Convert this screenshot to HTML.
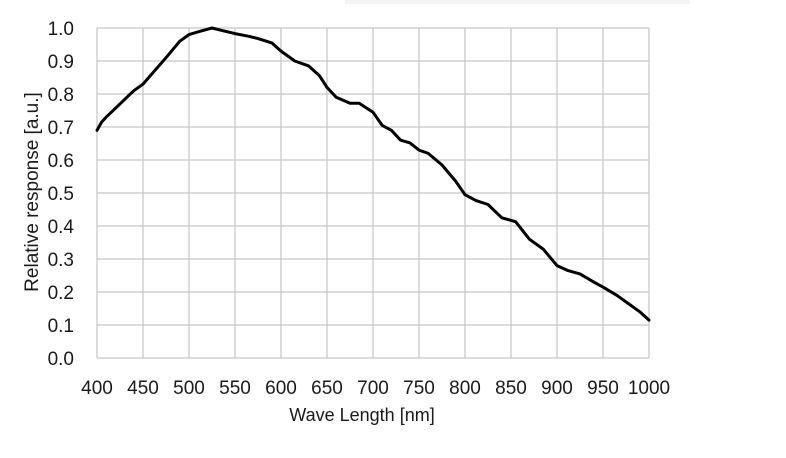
<!DOCTYPE html>
<html><head><meta charset="utf-8"><style>
html,body{margin:0;padding:0;background:#fff;}
svg{display:block;font-family:"Liberation Sans",Arial,sans-serif;}
</style></head><body>
<svg id="s" width="786" height="458" viewBox="0 0 786 458" xmlns="http://www.w3.org/2000/svg">
<rect x="345" y="0" width="345" height="4" fill="#f4f4f4"/>
<g id="grid" stroke="#c8c8c8" stroke-width="1.3" fill="none"></g>
<g id="lab" fill="#1a1a1a" font-size="19"></g>
<text x="362" y="421" text-anchor="middle" font-size="18" fill="#1a1a1a">Wave Length [nm]</text>
<text transform="translate(38,192) rotate(-90)" text-anchor="middle" font-size="19" fill="#1a1a1a">Relative response [a.u.]</text>
<path id="c" fill="none" stroke="#000" stroke-width="3" stroke-linejoin="round" stroke-linecap="round"/>
</svg>
<script>
var L=97,R=649,T=28,B=358,ns="http://www.w3.org/2000/svg";
function X(n){return L+(n-400)*(R-L)/600}
function Y(v){return B-v*(B-T)}
var g=document.getElementById('grid'),lab=document.getElementById('lab');
for(var i=0;i<=12;i++){var x=X(400+50*i);var l=document.createElementNS(ns,'line');l.setAttribute('x1',x);l.setAttribute('x2',x);l.setAttribute('y1',T);l.setAttribute('y2',B);g.appendChild(l);
var t=document.createElementNS(ns,'text');t.setAttribute('x',x);t.setAttribute('y',394);t.setAttribute('text-anchor','middle');t.textContent=400+50*i;lab.appendChild(t);}
for(var j=0;j<=10;j++){var y=Y(j/10);var l=document.createElementNS(ns,'line');l.setAttribute('x1',L);l.setAttribute('x2',R);l.setAttribute('y1',y);l.setAttribute('y2',y);g.appendChild(l);
var t=document.createElementNS(ns,'text');t.setAttribute('x',74);t.setAttribute('y',y+7);t.setAttribute('text-anchor','end');t.textContent=(j/10).toFixed(1);lab.appendChild(t);}
var d=[[400,0.69],[405,0.715],[410,0.73],[425,0.77],[440,0.81],[450,0.83],[475,0.91],[490,0.96],[500,0.98],[512,0.99],[525,1.0],[535,0.993],[550,0.983],[565,0.975],[575,0.968],[590,0.955],[600,0.93],[615,0.90],[630,0.885],[642,0.855],[650,0.82],[660,0.79],[675,0.772],[685,0.772],[700,0.745],[710,0.705],[720,0.69],[730,0.66],[740,0.652],[750,0.63],[760,0.62],[775,0.585],[790,0.535],[800,0.495],[812,0.477],[825,0.465],[840,0.425],[855,0.413],[870,0.36],[885,0.33],[900,0.28],[912,0.265],[925,0.255],[940,0.23],[950,0.215],[965,0.19],[975,0.17],[990,0.14],[1000,0.115]];
var p=d.map(function(q,k){return (k?'L':'M')+X(q[0]).toFixed(1)+' '+Y(q[1]).toFixed(1)}).join(' ');
document.getElementById('c').setAttribute('d',p);
</script>
</body></html>
